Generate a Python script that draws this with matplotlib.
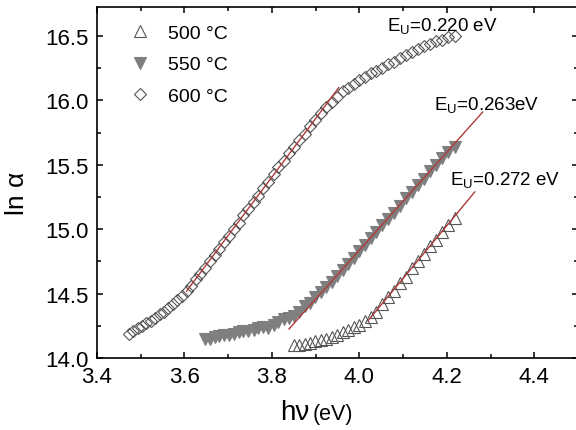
import matplotlib
matplotlib.use("Agg")
import matplotlib.pyplot as plt
from matplotlib.ticker import MultipleLocator

plt.rcParams['font.family'] = ['Liberation Sans', 'DejaVu Sans']
plt.rcParams['mathtext.fontset'] = 'custom'
plt.rcParams['mathtext.rm'] = 'Liberation Sans'
plt.rcParams['mathtext.it'] = 'Liberation Sans:italic'

# ---- data ----
x600 = [3.473, 3.483, 3.493, 3.503, 3.513, 3.523, 3.533, 3.543, 3.553, 3.563,
        3.573, 3.584, 3.594, 3.605, 3.615, 3.626, 3.636, 3.647, 3.658, 3.669,
        3.680, 3.690, 3.701, 3.713, 3.724, 3.735, 3.746, 3.758, 3.769, 3.780,
        3.792, 3.804, 3.815, 3.827, 3.839, 3.851, 3.863, 3.875, 3.887, 3.899,
        3.912, 3.924, 3.937, 3.949, 3.962, 3.974, 3.987, 4.000, 4.013, 4.026,
        4.039, 4.052, 4.066, 4.079, 4.092, 4.106, 4.120, 4.133, 4.147, 4.161,
        4.175, 4.189, 4.203, 4.218]
y600 = [14.19, 14.21, 14.23, 14.25, 14.27, 14.29, 14.31, 14.34, 14.36, 14.39,
        14.42, 14.45, 14.48, 14.52, 14.56, 14.61, 14.65, 14.70, 14.75, 14.80,
        14.85, 14.90, 14.95, 15.00, 15.05, 15.11, 15.16, 15.21, 15.26, 15.32,
        15.37, 15.43, 15.48, 15.53, 15.59, 15.64, 15.69, 15.74, 15.80, 15.85,
        15.90, 15.95, 15.99, 16.03, 16.07, 16.10, 16.13, 16.16, 16.18, 16.21,
        16.23, 16.25, 16.28, 16.30, 16.33, 16.35, 16.38, 16.40, 16.42, 16.44,
        16.46, 16.47, 16.49, 16.50]

x550 = [3.647, 3.658, 3.669, 3.680, 3.690, 3.701, 3.713, 3.724, 3.735, 3.746,
        3.758, 3.769, 3.780, 3.792, 3.804, 3.815, 3.827, 3.839, 3.851, 3.863,
        3.875, 3.887, 3.899, 3.912, 3.924, 3.937, 3.949, 3.962, 3.974, 3.987,
        4.000, 4.013, 4.026, 4.039, 4.052, 4.066, 4.079, 4.092, 4.106, 4.120,
        4.133, 4.147, 4.161, 4.175, 4.189, 4.203, 4.218]
y550 = [14.15, 14.15, 14.16, 14.17, 14.18, 14.18, 14.19, 14.20, 14.21, 14.21,
        14.22, 14.23, 14.24, 14.23, 14.26, 14.28, 14.30, 14.31, 14.33, 14.36,
        14.40, 14.43, 14.47, 14.51, 14.55, 14.59, 14.64, 14.68, 14.73, 14.78,
        14.83, 14.88, 14.93, 14.98, 15.03, 15.08, 15.13, 15.18, 15.24, 15.29,
        15.34, 15.39, 15.45, 15.50, 15.55, 15.60, 15.64]

x500 = [3.851, 3.863, 3.875, 3.887, 3.899, 3.912, 3.924, 3.937, 3.949, 3.962,
        3.974, 3.987, 4.000, 4.013, 4.026, 4.039, 4.052, 4.066, 4.079, 4.092,
        4.106, 4.120, 4.133, 4.147, 4.161, 4.175, 4.189, 4.203, 4.218]
y500 = [14.10, 14.10, 14.11, 14.12, 14.13, 14.14, 14.15, 14.16, 14.18, 14.20,
        14.22, 14.24, 14.26, 14.29, 14.32, 14.36, 14.42, 14.47, 14.52, 14.58,
        14.63, 14.70, 14.75, 14.81, 14.87, 14.92, 14.98, 15.03, 15.09]

fit600_x = [3.605, 3.953]
fit600_y = [14.52, 16.10]
fit550_x = [3.839, 4.282]
fit550_y = [14.225, 15.91]
fit500_x = [4.02, 4.264]
fit500_y = [14.29, 15.29]

labels = ["500 °C", "550 °C", "600 °C"]
eu_text = ["E$_\\mathregular{U}$=0.220 eV", "E$_\\mathregular{U}$=0.263eV",
           "E$_\\mathregular{U}$=0.272 eV"]
eu_pos = [(4.063, 16.545), (4.170, 15.93), (4.207, 15.349)]

# ---- figure ----
W, H = 576, 431
fig = plt.figure(figsize=(W / 100, H / 100), dpi=100)
ax = fig.add_axes([97 / W, 1 - 359 / H, (578 - 97) / W, (359 - 8) / H])

edge = '#555555'
red = '#b03a3a'
gray = '#7f7f7f'

ax.plot(fit600_x, fit600_y, color=red, lw=1.0, zorder=3)
ax.plot(fit550_x, fit550_y, color=red, lw=1.0, zorder=3)
ax.plot(fit500_x, fit500_y, color=red, lw=1.0, zorder=3)

ax.plot(x500, y500, ls='none', marker='^', ms=8, mfc='none', mec=edge, mew=0.8,
        label=labels[0], zorder=2)
ax.plot(x550, y550, ls='none', marker='v', ms=8, mfc=gray, mec=gray, mew=0.8,
        label=labels[1], zorder=2)
ax.plot(x600, y600, ls='none', marker='D', ms=6, mfc='none', mec=edge, mew=0.8,
        label=labels[2], zorder=2)

for t, (tx, ty) in zip(eu_text, eu_pos):
    ax.text(tx, ty, t, fontsize=13.5, ha='left', va='baseline', color='black')

ax.set_xlim(3.4, 4.5)
ax.set_ylim(14.0, 16.726)
ax.xaxis.set_minor_locator(MultipleLocator(0.1))
ax.yaxis.set_minor_locator(MultipleLocator(0.25))
ax.set_xticks([3.4, 3.6, 3.8, 4.0, 4.2, 4.4])
ax.set_xticklabels(["3.4", "3.6", "3.8", "4.0", "4.2", "4.4"])
ax.set_yticks([14.0, 14.5, 15.0, 15.5, 16.0, 16.5])
ax.set_yticklabels(["14.0", "14.5", "15.0", "15.5", "16.0", "16.5"])

ax.tick_params(which='both', direction='in', top=True, right=True, width=1.1)
ax.tick_params(which='major', length=4.5, labelsize=16, pad=6)
ax.tick_params(which='minor', length=3)
for s in ax.spines.values():
    s.set_linewidth(1.2)

leg = ax.legend(loc='upper left', bbox_to_anchor=(0.041, 0.99), frameon=False,
                fontsize=14, handlelength=1.0, handletextpad=0.95,
                labelspacing=0.72, borderaxespad=0.3)

# axis labels (mixed sizes)
fig.text(280 / W, 1 - 420 / H, "hν", fontsize=20, ha='left', va='baseline')
fig.text(313 / W, 1 - 420 / H, "(eV)", fontsize=15.5, ha='left', va='baseline')
fig.text(29 / W, 1 - 193 / H, "ln α", fontsize=19, rotation=90, ha='right', va='center')

fig.savefig("out.png", dpi=100)
